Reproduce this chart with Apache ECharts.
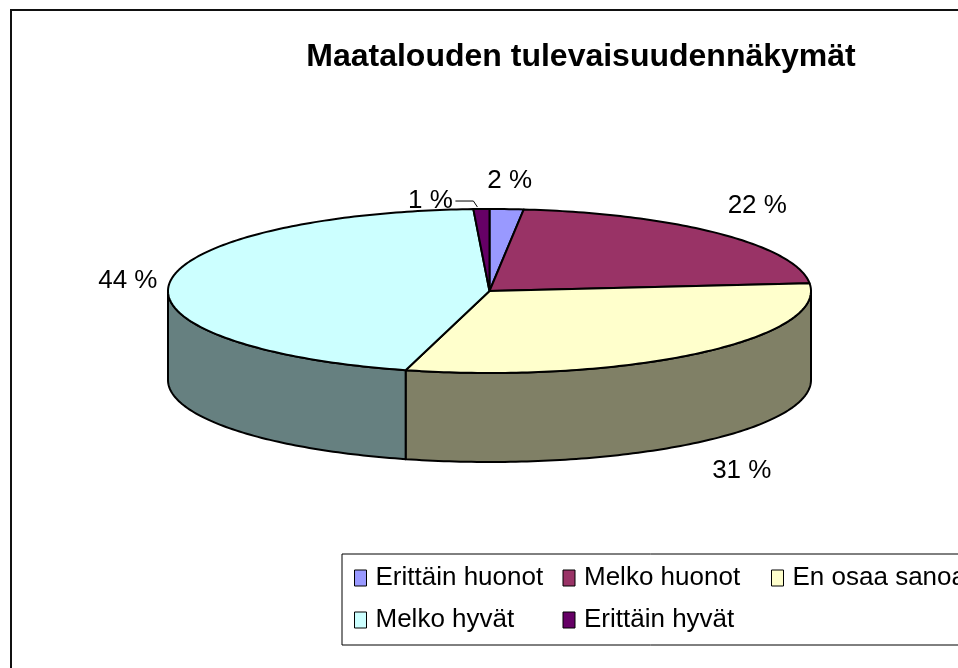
<!DOCTYPE html>
<html>
<head>
<meta charset="utf-8">
<style>
  html, body { margin: 0; padding: 0; background: #fff; }
  #chart { width: 958px; height: 668px; }
</style>
<script src="https://cdn.jsdelivr.net/npm/echarts@6/dist/echarts.min.js"></script>
</head>
<body>
<div id="chart"></div>
<script>
const categories = ['Erittäin huonot', 'Melko huonot', 'En osaa sanoa', 'Melko hyvät', 'Erittäin hyvät'];
const sliceValues = [1.7, 21.8, 30.7, 45, 0.8];
const sliceLabels = ['2 %', '22 %', '31 %', '44 %', '1 %'];
const topColors = ['#9999ff', '#993366', '#ffffcc', '#ccffff', '#660066'];
const sideColors = ['#4d4d80', '#4d1a33', '#808066', '#668080', '#330033'];

const FONT = '"Liberation Sans", Arial, sans-serif';

// fake 3d pie: ellipse for the top, wall below it
const pie = { cx: 489.5, cy: 291, rx: 321.5, ry: 82, depth: 89 };
// label offset from the rim point at the middle of each slice
const labelNudge = [[3, -28], [39, -28], [45, 28], [-42, -1], [-51, -8]];

const total = sliceValues.reduce((a, b) => a + b, 0);
let running = 0;
const sliceAngles = sliceValues.map(v => {
  const start = running / total * 360;
  running += v;
  return [start, running / total * 360];
});

const rimPoint = (deg, drop) => {
  const t = deg * Math.PI / 180;
  return [pie.cx + pie.rx * Math.sin(t), pie.cy - pie.ry * Math.cos(t) + (drop || 0)];
};

const arcPoints = (from, to, drop) => {
  const pts = [];
  const steps = Math.max(2, Math.ceil(to - from));
  for (let i = 0; i <= steps; i++) {
    pts.push(rimPoint(from + (to - from) * i / steps, drop));
  }
  return pts;
};

const renderSlice = (idx) => () => {
  const [start, end] = sliceAngles[idx];
  const children = [];

  // only the part facing the viewer gets a wall
  const wallFrom = Math.max(start, 90);
  const wallTo = Math.min(end, 270);
  if (wallFrom < wallTo) {
    children.push({
      type: 'polygon',
      z2: 1,
      shape: { points: arcPoints(wallFrom, wallTo, 0).concat(arcPoints(wallFrom, wallTo, pie.depth).reverse()) },
      style: { fill: sideColors[idx], stroke: '#000', lineWidth: 2, lineJoin: 'round' }
    });
  }

  children.push({
    type: 'polygon',
    z2: 2,
    shape: { points: [[pie.cx, pie.cy]].concat(arcPoints(start, end, 0)) },
    style: { fill: topColors[idx], stroke: '#000', lineWidth: 2, lineJoin: 'round' }
  });

  const mid = (start + end) / 2;
  const anchor = rimPoint(mid, mid > 90 && mid < 270 ? pie.depth : 0);
  const lx = anchor[0] + labelNudge[idx][0];
  const ly = anchor[1] + labelNudge[idx][1];
  children.push({
    type: 'text',
    z2: 3,
    x: lx,
    y: ly,
    style: { text: sliceLabels[idx], font: '26px ' + FONT, fill: '#000', align: 'center', verticalAlign: 'middle' }
  });

  // the 1 % label sits away from its thin slice, so it gets a leader line
  if (idx === sliceValues.length - 1) {
    children.push({
      type: 'polyline',
      z2: 3,
      shape: { points: [[lx + 25, ly], [lx + 43, ly], [anchor[0] - 4, anchor[1] - 2]] },
      style: { fill: 'none', stroke: '#000', lineWidth: 1 }
    });
  }
  return { type: 'group', children };
};

const chart = echarts.init(document.getElementById('chart'), null, { renderer: 'canvas' });

chart.setOption({
  animation: false,
  backgroundColor: '#fff',
  title: {
    text: 'Maatalouden tulevaisuudennäkymät',
    left: 576,
    top: 36,
    textAlign: 'center',
    textStyle: { fontFamily: FONT, fontSize: 32, fontWeight: 'bold', color: '#000' }
  },
  legend: {
    left: 342,
    top: 554,
    width: 700,
    padding: [11, 0, 12, 12],
    itemGap: 16,
    itemWidth: 12,
    itemHeight: 16,
    itemStyle: { borderColor: '#000', borderWidth: 1 },
    icon: 'rect',
    backgroundColor: '#fff',
    borderColor: '#000',
    borderWidth: 1,
    data: categories,
    formatter: '{t|{name}}',
    textStyle: {
      fontFamily: FONT,
      fontSize: 26,
      color: '#000',
      // the white background makes the fixed width count, so the columns line up
      rich: { t: { fontFamily: FONT, fontSize: 26, color: '#000', width: 171, padding: [0, 0, 0, 4], backgroundColor: '#fff' } }
    }
  },
  graphic: [
    {
      type: 'rect',
      silent: true,
      z: -1,
      shape: { x: 11, y: 10, width: 1000, height: 700 },
      style: { fill: '#fff', stroke: '#111', lineWidth: 2 }
    }
  ],
  series: categories.map((name, i) => ({
    type: 'custom',
    name,
    coordinateSystem: 'none',
    silent: true,
    itemStyle: { color: topColors[i] },
    renderItem: renderSlice(i),
    data: [sliceValues[i]]
  }))
});
</script>
</body>
</html>
